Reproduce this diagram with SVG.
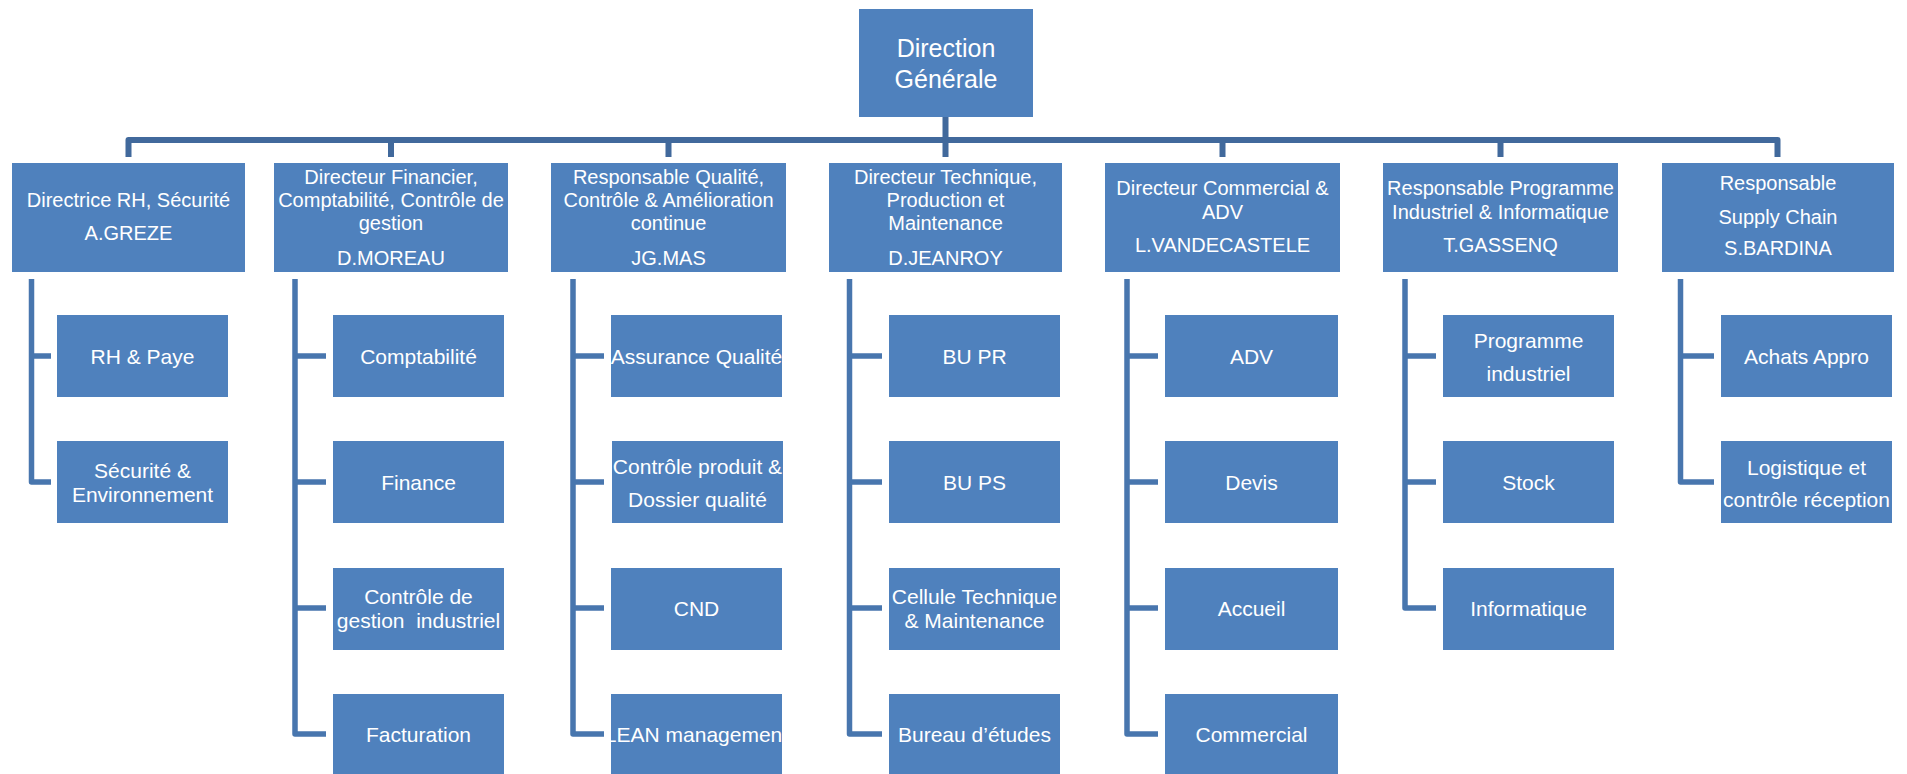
<svg xmlns="http://www.w3.org/2000/svg" width="1907" height="774" viewBox="0 0 1907 774">
  <style>
    .box { fill: #4F81BD; }
    .t { font-family: "Liberation Sans", Arial, sans-serif; fill: #FFFFFF; text-anchor: middle; }
    .top { font-size: 25px; }
    .l1 { font-size: 20px; }
    .l2 { font-size: 21px; }
    .bar { fill: none; stroke: #41699C; stroke-width: 6; stroke-linejoin: round; }
    .drop { fill: none; stroke: #41699C; stroke-width: 6; }
    .sub { fill: none; stroke: #4876AE; stroke-width: 5.5; stroke-linejoin: round; }
  </style>
  <rect width="1907" height="774" fill="#FFFFFF"/>

  <!-- connectors -->
  <g id="connectors">
    <path class="bar" d="M128.5,157 V140 H1777.5 V157"/>
    <path class="drop" d="M945.5,117 V157 M391,140 V157 M668.5,140 V157 M1222.5,140 V157 M1500.5,140 V157"/>
    <!-- column 1 -->
    <path class="sub" d="M31.5,279 V482 H51 M31.5,356 H51"/>
    <!-- column 2 -->
    <path class="sub" d="M295,279 V734 H326 M295,356 H326 M295,482 H326 M295,608 H326"/>
    <!-- column 3 -->
    <path class="sub" d="M573,279 V734 H604 M573,356 H604 M573,482 H604 M573,608 H604"/>
    <!-- column 4 -->
    <path class="sub" d="M849.5,279 V734 H882 M849.5,356 H882 M849.5,482 H882 M849.5,608 H882"/>
    <!-- column 5 -->
    <path class="sub" d="M1127,279 V734 H1158 M1127,356 H1158 M1127,482 H1158 M1127,608 H1158"/>
    <!-- column 6 -->
    <path class="sub" d="M1405,279 V608 H1436 M1405,356 H1436 M1405,482 H1436"/>
    <!-- column 7 -->
    <path class="sub" d="M1680.5,279 V482 H1714 M1680.5,356 H1714"/>
  </g>

  <!-- top -->
  <g id="direction-generale">
    <rect class="box" x="859" y="9" width="174" height="108"/>
    <text class="t top" x="946" y="57">Direction</text>
    <text class="t top" x="946" y="88">Générale</text>
  </g>

  <!-- level 1 -->
  <g id="rh">
    <rect class="box" x="12" y="163" width="233" height="109"/>
    <text class="t l1" x="128.5" y="207">Directrice RH, Sécurité</text>
    <text class="t l1" x="128.5" y="240">A.GREZE</text>
  </g>
  <g id="finance">
    <rect class="box" x="274" y="163" width="234" height="109"/>
    <text class="t l1" x="391" y="184">Directeur Financier,</text>
    <text class="t l1" x="391" y="207">Comptabilité, Contrôle de</text>
    <text class="t l1" x="391" y="230">gestion</text>
    <text class="t l1" x="391" y="265">D.MOREAU</text>
  </g>
  <g id="qualite">
    <rect class="box" x="551" y="163" width="235" height="109"/>
    <text class="t l1" x="668.5" y="184">Responsable Qualité,</text>
    <text class="t l1" x="668.5" y="207">Contrôle &amp; Amélioration</text>
    <text class="t l1" x="668.5" y="230">continue</text>
    <text class="t l1" x="668.5" y="265">JG.MAS</text>
  </g>
  <g id="technique">
    <rect class="box" x="829" y="163" width="233" height="109"/>
    <text class="t l1" x="945.5" y="184">Directeur Technique,</text>
    <text class="t l1" x="945.5" y="207">Production et</text>
    <text class="t l1" x="945.5" y="230">Maintenance</text>
    <text class="t l1" x="945.5" y="265">D.JEANROY</text>
  </g>
  <g id="commercial">
    <rect class="box" x="1105" y="163" width="235" height="109"/>
    <text class="t l1" x="1222.5" y="195">Directeur Commercial &amp;</text>
    <text class="t l1" x="1222.5" y="219">ADV</text>
    <text class="t l1" x="1222.5" y="252">L.VANDECASTELE</text>
  </g>
  <g id="programme">
    <rect class="box" x="1383" y="163" width="235" height="109"/>
    <text class="t l1" x="1500.5" y="195">Responsable Programme</text>
    <text class="t l1" x="1500.5" y="219">Industriel &amp; Informatique</text>
    <text class="t l1" x="1500.5" y="252">T.GASSENQ</text>
  </g>
  <g id="supply-chain">
    <rect class="box" x="1662" y="163" width="232" height="109"/>
    <text class="t l1" x="1778" y="190">Responsable</text>
    <text class="t l1" x="1778" y="224">Supply Chain</text>
    <text class="t l1" x="1778" y="255">S.BARDINA</text>
  </g>

  <!-- column 1 -->
  <g id="rh-paye">
    <rect class="box" x="57" y="315" width="171" height="82"/>
    <text class="t l2" x="142.5" y="364">RH &amp; Paye</text>
  </g>
  <g id="securite-environnement">
    <rect class="box" x="57" y="441" width="171" height="82"/>
    <text class="t l2" x="142.5" y="478">Sécurité &amp;</text>
    <text class="t l2" x="142.5" y="502">Environnement</text>
  </g>

  <!-- column 2 -->
  <g id="comptabilite">
    <rect class="box" x="333" y="315" width="171" height="82"/>
    <text class="t l2" x="418.5" y="364">Comptabilité</text>
  </g>
  <g id="finance-service">
    <rect class="box" x="333" y="441" width="171" height="82"/>
    <text class="t l2" x="418.5" y="490">Finance</text>
  </g>
  <g id="controle-gestion">
    <rect class="box" x="333" y="568" width="171" height="82"/>
    <text class="t l2" x="418.5" y="604">Contrôle de</text>
    <text class="t l2" x="418.5" y="628" xml:space="preserve">gestion  industriel</text>
  </g>
  <g id="facturation">
    <rect class="box" x="333" y="694" width="171" height="82"/>
    <text class="t l2" x="418.5" y="742">Facturation</text>
  </g>

  <!-- column 3 -->
  <g id="assurance-qualite">
    <rect class="box" x="611" y="315" width="171" height="82"/>
    <text class="t l2" x="696.5" y="364">Assurance Qualité</text>
  </g>
  <g id="controle-produit">
    <rect class="box" x="612" y="441" width="171" height="82"/>
    <text class="t l2" x="697.5" y="474">Contrôle produit &amp;</text>
    <text class="t l2" x="697.5" y="507">Dossier qualité</text>
  </g>
  <g id="cnd">
    <rect class="box" x="611" y="568" width="171" height="82"/>
    <text class="t l2" x="696.5" y="616">CND</text>
  </g>
  <g id="lean">
    <rect class="box" x="611" y="694" width="171" height="82"/>
    <text class="t l2" x="696.5" y="742">LEAN management</text>
  </g>

  <!-- column 4 -->
  <g id="bu-pr">
    <rect class="box" x="889" y="315" width="171" height="82"/>
    <text class="t l2" x="974.5" y="364">BU PR</text>
  </g>
  <g id="bu-ps">
    <rect class="box" x="889" y="441" width="171" height="82"/>
    <text class="t l2" x="974.5" y="490">BU PS</text>
  </g>
  <g id="cellule-technique">
    <rect class="box" x="889" y="568" width="171" height="82"/>
    <text class="t l2" x="974.5" y="604">Cellule Technique</text>
    <text class="t l2" x="974.5" y="628">&amp; Maintenance</text>
  </g>
  <g id="bureau-etudes">
    <rect class="box" x="889" y="694" width="171" height="82"/>
    <text class="t l2" x="974.5" y="742">Bureau d’études</text>
  </g>

  <!-- column 5 -->
  <g id="adv">
    <rect class="box" x="1165" y="315" width="173" height="82"/>
    <text class="t l2" x="1251.5" y="364">ADV</text>
  </g>
  <g id="devis">
    <rect class="box" x="1165" y="441" width="173" height="82"/>
    <text class="t l2" x="1251.5" y="490">Devis</text>
  </g>
  <g id="accueil">
    <rect class="box" x="1165" y="568" width="173" height="82"/>
    <text class="t l2" x="1251.5" y="616">Accueil</text>
  </g>
  <g id="commercial-service">
    <rect class="box" x="1165" y="694" width="173" height="82"/>
    <text class="t l2" x="1251.5" y="742">Commercial</text>
  </g>

  <!-- column 6 -->
  <g id="programme-industriel">
    <rect class="box" x="1443" y="315" width="171" height="82"/>
    <text class="t l2" x="1528.5" y="348">Programme</text>
    <text class="t l2" x="1528.5" y="381">industriel</text>
  </g>
  <g id="stock">
    <rect class="box" x="1443" y="441" width="171" height="82"/>
    <text class="t l2" x="1528.5" y="490">Stock</text>
  </g>
  <g id="informatique">
    <rect class="box" x="1443" y="568" width="171" height="82"/>
    <text class="t l2" x="1528.5" y="616">Informatique</text>
  </g>

  <!-- column 7 -->
  <g id="achats-appro">
    <rect class="box" x="1721" y="315" width="171" height="82"/>
    <text class="t l2" x="1806.5" y="364">Achats Appro</text>
  </g>
  <g id="logistique">
    <rect class="box" x="1721" y="441" width="171" height="82"/>
    <text class="t l2" x="1806.5" y="475">Logistique et</text>
    <text class="t l2" x="1806.5" y="507">contrôle réception</text>
  </g>
</svg>
